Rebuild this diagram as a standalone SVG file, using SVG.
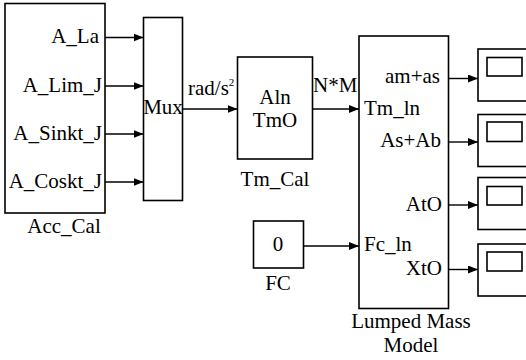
<svg xmlns="http://www.w3.org/2000/svg" width="526" height="360" viewBox="0 0 526 360">
<style>
  .blk { fill: #fff; stroke: #000; stroke-width: 1.6; }
  .ln { fill: none; stroke: #000; stroke-width: 1.4; marker-end: url(#ah); }
  text { font-family: "Liberation Serif", "Times New Roman", serif; font-size: 21px; fill: #000; }
  .e { text-anchor: end; }
  .m { text-anchor: middle; }
</style>
<defs>
  <marker id="ah" viewBox="0 0 10 8" refX="10" refY="4" markerWidth="10" markerHeight="8" markerUnits="userSpaceOnUse" orient="auto">
    <path d="M0,0 L10,4 L0,8 Z" fill="#000"/>
  </marker>
</defs>
<rect width="526" height="360" fill="#fff"/>
<g id="acc_cal">
  <rect class="blk" x="5" y="3.5" width="100" height="209.5"/>
  <text class="e" x="99" y="43">A_La</text>
  <text class="e" x="102" y="92">A_Lim_J</text>
  <text class="e" x="102" y="140">A_Sinkt_J</text>
  <text class="e" x="102" y="188">A_Coskt_J</text>
  <text class="m" x="64" y="233">Acc_Cal</text>
</g>
<g id="mux">
  <rect class="blk" x="143.5" y="17.5" width="39" height="183"/>
  <text class="m" x="163" y="114">Mux</text>
</g>
<g id="tm_cal">
  <rect class="blk" x="237.5" y="57" width="75" height="102"/>
  <text class="m" x="275" y="104">Aln</text>
  <text class="m" x="275" y="127">TmO</text>
  <text class="m" x="275" y="186">Tm_Cal</text>
</g>
<g id="fc">
  <rect class="blk" x="253.5" y="221" width="50" height="47"/>
  <text class="m" x="278" y="251">0</text>
  <text class="m" x="278" y="290">FC</text>
</g>
<g id="lumped_mass_model">
  <rect class="blk" x="359" y="36" width="89.5" height="272.5"/>
  <text class="e" x="440" y="83">am+as</text>
  <text x="364" y="115">Tm_ln</text>
  <text class="e" x="441" y="147">As+Ab</text>
  <text class="e" x="442" y="211">AtO</text>
  <text x="364" y="251">Fc_ln</text>
  <text class="e" x="442" y="275">XtO</text>
  <text class="m" x="411" y="328">Lumped Mass</text>
  <text class="m" x="411" y="352">Model</text>
</g>
<g id="scope1">
  <rect class="blk" x="478" y="49" width="60" height="52"/>
  <rect class="blk" x="487" y="57.5" width="35" height="18.5"/>
</g>
<g id="scope2">
  <rect class="blk" x="478" y="114.5" width="60" height="52"/>
  <rect class="blk" x="487" y="122" width="35" height="19.5"/>
</g>
<g id="scope3">
  <rect class="blk" x="478" y="177.5" width="60" height="52"/>
  <rect class="blk" x="487" y="186.5" width="35" height="18.5"/>
</g>
<g id="scope4">
  <rect class="blk" x="478" y="244" width="60" height="52"/>
  <rect class="blk" x="487" y="252" width="35" height="19"/>
</g>
<g id="connectors">
  <line class="ln" x1="105" y1="37.5" x2="143.5" y2="37.5"/>
  <line class="ln" x1="105" y1="86" x2="143.5" y2="86"/>
  <line class="ln" x1="105" y1="134" x2="143.5" y2="134"/>
  <line class="ln" x1="105" y1="182" x2="143.5" y2="182"/>
  <line class="ln" x1="182.5" y1="109" x2="237.5" y2="109"/>
  <line class="ln" x1="312.5" y1="109" x2="359" y2="109"/>
  <line class="ln" x1="303.5" y1="246" x2="359" y2="246"/>
  <line class="ln" x1="448.5" y1="78.5" x2="478" y2="78.5"/>
  <line class="ln" x1="448.5" y1="142" x2="478" y2="142"/>
  <line class="ln" x1="448.5" y1="205" x2="478" y2="205"/>
  <line class="ln" x1="448.5" y1="269.5" x2="478" y2="269.5"/>
  <text x="188" y="95">rad/s<tspan font-size="11" dy="-9">2</tspan></text>
  <text x="313" y="92">N*M</text>
</g>
</svg>
